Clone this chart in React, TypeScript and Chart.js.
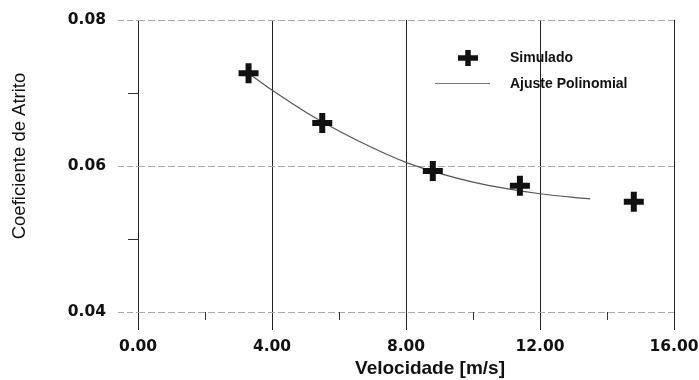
import React, { useEffect, useRef } from "react";
import { Chart, registerables } from "chart.js";

Chart.register(...registerables);

const simVelocity = [3.3, 5.5, 8.8, 11.4, 14.8];
const simCoef = [0.0727, 0.0659, 0.0593, 0.0573, 0.0551];

const fitVelocity = [3.3, 4, 5, 6, 7, 8, 9, 10, 11, 12, 13, 13.5];
const fitCoef = [0.0727, 0.0704, 0.0674, 0.0648, 0.0625, 0.0605, 0.059, 0.0578, 0.0569, 0.0562, 0.0557, 0.0555];

const xMinorTicks = [2, 6, 10, 14];
const yMinorTicks = [0.05, 0.07];

const seriesNames = ["Simulado", "Ajuste Polinomial"];
const xTitle = "Velocidade [m/s]";
const yTitle = "Coeficiente de Atrito";

const INK = "#111";

const decorPlugin = {
  id: "decor",
  afterDraw(chart: any) {
    const ctx = chart.ctx;
    const xs = chart.scales.x;
    const ys = chart.scales.y;
    const area = chart.chartArea;
    ctx.save();
    // minor ticks
    ctx.strokeStyle = "#333";
    ctx.lineWidth = 1;
    xMinorTicks.forEach((v) => {
      const px = Math.round(xs.getPixelForValue(v)) + 0.5;
      ctx.beginPath();
      ctx.moveTo(px, area.bottom);
      ctx.lineTo(px, area.bottom + 8);
      ctx.stroke();
    });
    yMinorTicks.forEach((v) => {
      const py = Math.round(ys.getPixelForValue(v)) + 0.5;
      ctx.beginPath();
      ctx.moveTo(area.left - 10, py);
      ctx.lineTo(area.left, py);
      ctx.stroke();
    });
    // axis titles
    ctx.fillStyle = INK;
    ctx.textAlign = "center";
    ctx.textBaseline = "middle";
    ctx.font = "bold 19px 'Liberation Sans', Arial, sans-serif";
    ctx.fillText(xTitle, 430, 369);
    ctx.save();
    ctx.translate(20, 156);
    ctx.rotate(-Math.PI / 2);
    ctx.font = "18.5px 'Liberation Sans', Arial, sans-serif";
    ctx.fillText(yTitle, 0, 0);
    ctx.restore();
    // legend
    const mx = 468, my = 58, r = 10;
    ctx.strokeStyle = INK;
    ctx.lineWidth = 5.5;
    ctx.beginPath();
    ctx.moveTo(mx - r, my);
    ctx.lineTo(mx + r, my);
    ctx.moveTo(mx, my - r + 2);
    ctx.lineTo(mx, my + r - 2);
    ctx.stroke();
    ctx.strokeStyle = "#777";
    ctx.lineWidth = 1;
    ctx.beginPath();
    ctx.moveTo(435, 83.5);
    ctx.lineTo(490, 83.5);
    ctx.stroke();
    ctx.textAlign = "left";
    ctx.font = "bold 14px 'Liberation Sans', Arial, sans-serif";
    ctx.fillText(seriesNames[0], 510, 58);
    ctx.fillText(seriesNames[1], 510, 84);
    ctx.restore();
  },
};

export default function App() {
  const ref = useRef<HTMLCanvasElement | null>(null);
  useEffect(() => {
    if (!ref.current) return;
    const chart = new Chart(ref.current, {
      type: "scatter",
      data: {
        datasets: [
          {
            label: seriesNames[1],
            data: fitVelocity.map((x, i) => ({ x, y: fitCoef[i] })),
            showLine: true,
            borderColor: "#555",
            borderWidth: 1.2,
            pointRadius: 0,
            tension: 0.4,
            cubicInterpolationMode: "monotone",
            order: 2,
          } as any,
          {
            label: seriesNames[0],
            data: simVelocity.map((x, i) => ({ x, y: simCoef[i] })),
            pointStyle: "cross",
            pointRadius: 10,
            pointBorderWidth: 6,
            borderColor: INK,
            backgroundColor: INK,
            showLine: false,
            order: 1,
          } as any,
        ],
      },
      options: {
        animation: false,
        responsive: true,
        maintainAspectRatio: false,
        layout: { padding: { top: 20, right: 25, left: 0, bottom: 0 } },
        plugins: { legend: { display: false }, tooltip: { enabled: false } },
        scales: {
          x: {
            type: "linear",
            min: 0,
            max: 16,
            afterFit: (s: any) => { s.height = 68; s.paddingRight = 0; s.paddingLeft = 0; },
            ticks: {
              stepSize: 4,
              padding: 8,
              color: INK,
              font: { family: "'DejaVu Sans', sans-serif", weight: "bold", size: 15.5 },
              callback: (v: any) => Number(v).toFixed(2),
            },
            grid: { color: "#222", lineWidth: 1, tickLength: 18, tickColor: "#222" },
            border: { display: false },
          },
          y: {
            type: "linear",
            min: 0.04,
            max: 0.08,
            afterFit: (s: any) => { s.width = 138; s.paddingTop = 0; s.paddingBottom = 0; },
            ticks: {
              stepSize: 0.02,
              padding: 12,
              color: INK,
              font: { family: "'DejaVu Sans', sans-serif", weight: "bold", size: 15.5 },
              callback: (v: any) => Number(v).toFixed(2),
            },
            grid: { color: "#aaa", lineWidth: 1, tickLength: 20, tickColor: "#aaa", tickBorderDash: [6, 3] },
            border: { display: false, dash: [7, 3] },
          },
        },
      },
      plugins: [decorPlugin],
    });
    return () => chart.destroy();
  }, []);
  return (
    <div style={{ position: "fixed", left: 0, top: 0, width: 699, height: 380, background: "#fff" }}>
      <canvas ref={ref} />
    </div>
  );
}
